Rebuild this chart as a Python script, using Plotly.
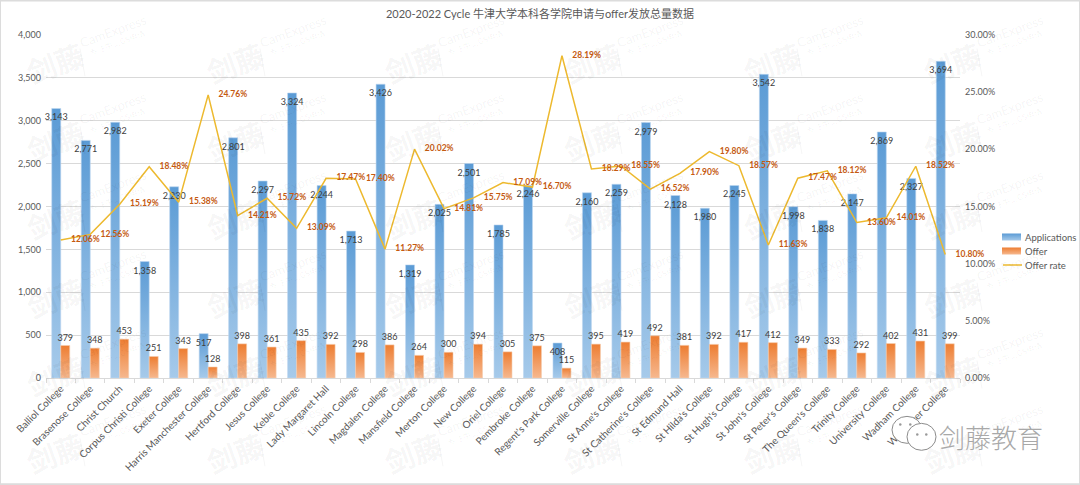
import plotly.graph_objects as go

colleges = ["Balliol College","Brasenose College","Christ Church","Corpus Christi College","Exeter College",
"Harris Manchester College","Hertford College","Jesus College","Keble College","Lady Margaret Hall",
"Lincoln College","Magdalen College","Mansfield College","Merton College","New College","Oriel College",
"Pembroke College","Regent's Park College","Somerville College","St Anne's College","St Catherine's College",
"St Edmund Hall","St Hilda's College","St Hugh's College","St John's College","St Peter's College",
"The Queen's College","Trinity College","University College","Wadham College","Worcester College"]
applications = [3143,2771,2982,1358,2230,517,2801,2297,3324,2244,1713,3426,1319,2025,2501,1785,2246,408,2160,2259,2979,2128,1980,2245,3542,1998,1838,2147,2869,2327,3694]
offers = [379,348,453,251,343,128,398,361,435,392,298,386,264,300,394,305,375,115,395,419,492,381,392,417,412,349,333,292,402,431,399]
offer_rate = [12.06,12.56,15.19,18.48,15.38,24.76,14.21,15.72,13.09,17.47,17.40,11.27,20.02,14.81,15.75,17.09,16.70,28.19,18.29,18.55,16.52,17.90,19.80,18.57,11.63,17.47,18.12,13.60,14.01,18.52,10.80]

W, H = 1080, 485
L, R, T, B = 46, 960, 34.5, 378.5
FONT = "Lato, 'Noto Sans CJK SC', sans-serif"
GREY = "#595959"
def px(x): return (x - L) / (R - L)
def py(y): return (B - y) / (B - T)

fig = go.Figure()
fig.add_bar(x=colleges, y=applications, name="Applications", marker=dict(color="#5B9BD5", line=dict(color="rgba(190,215,240,0.6)", width=1)),
            text=[f"{v:,}" for v in applications], textposition="inside", insidetextanchor="end", textangle=0,
            constraintext="none", insidetextfont=dict(color="#404040", size=9, family=FONT), cliponaxis=False)
fig.add_bar(x=colleges, y=offers, name="Offer", marker=dict(color="#ED7D31", line=dict(color="rgba(245,205,175,0.6)", width=1)),
            text=[str(v) for v in offers], textposition="outside", textangle=0, constraintext="none",
            outsidetextfont=dict(color="#404040", size=9, family=FONT), cliponaxis=False)
fig.add_scatter(x=colleges, y=[v / 100 for v in offer_rate], name="Offer rate", yaxis="y2", mode="lines+text",
                line=dict(color="#EDB92E", width=1.5), text=["\u00a0" * 5 + f"{v:.2f}%" for v in offer_rate],
                textposition="middle right", textfont=dict(color="#C55A11", size=8.5, family=FONT, weight="bold"), cliponaxis=False)

annotations = []
shapes = []
wm = "rgba(0,0,0,0.05)"
for cx in [55, 235, 413, 592, 772, 952]:
    for cy in [62, 140, 218, 297, 375, 453]:
        annotations += [
            dict(x=px(cx), y=py(cy), text="<b>剑藤</b>", font=dict(size=29, color=wm, family="Noto Sans CJK SC")),
            dict(x=px(cx + 58), y=py(cy - 32), text="CamExpress", font=dict(size=13, color=wm, family="Lato")),
            dict(x=px(cx + 62), y=py(cy - 20), text="专注牛剑GS申请", font=dict(size=8, color=wm, family="Noto Sans CJK SC")),
        ]
        shapes.append(dict(type="line", xref="paper", yref="paper", x0=px(cx + 25), y0=py(cy - 14), x1=px(cx + 30), y1=py(cy + 14),
                           line=dict(color="rgba(0,0,0,0.04)", width=1), layer="above"))
for a in annotations:
    a.update(xref="paper", yref="paper", showarrow=False, textangle=-20, xanchor="center", yanchor="middle")

# logo
annotations.append(dict(x=px(991), y=py(437), xref="paper", yref="paper", showarrow=False, xanchor="center", yanchor="middle",
                        text="剑藤教育", font=dict(size=26, color="#a8a8a8", family="Noto Sans CJK SC", weight=300)))
for (x0, y0, x1, y1) in [(892, 417, 922, 444), (907, 424, 936, 451)]:
    shapes.append(dict(type="circle", xref="paper", yref="paper", x0=px(x0), y0=py(y0), x1=px(x1), y1=py(y1),
                       fillcolor="white", line=dict(color="#8c8c8c", width=1), layer="above"))
for (x0, y0) in [(899, 424), (909, 424), (916, 434), (925, 434)]:
    shapes.append(dict(type="circle", xref="paper", yref="paper", x0=px(x0), y0=py(y0), x1=px(x0 + 2.5), y1=py(y0 + 2.5),
                       fillcolor="#999999", line=dict(width=0), layer="above"))
shapes.append(dict(type="rect", xref="paper", yref="paper", x0=px(0), y0=py(0), x1=px(W), y1=py(H),
                   line=dict(color="#dcdcdc", width=2), layer="above"))

fig.update_layout(
    width=W, height=H, margin=dict(l=L, r=W - R, t=T, b=H - B, autoexpand=False), paper_bgcolor="white", plot_bgcolor="white",
    font=dict(family=FONT, color=GREY, size=10),
    title=dict(text="2020-2022 Cycle 牛津大学本科各学院申请与offer发放总量数据", x=0.5, xanchor="center", y=1 - 14 / H, yanchor="middle",
               font=dict(size=11, color=GREY, family=FONT)),
    barmode="group", bargap=0.39, bargroupgap=0,
    xaxis=dict(tickangle=-45, tickson="boundaries", ticks="outside", ticklen=4, tickcolor="#d9d9d9", showline=True, linecolor="#d9d9d9",
               range=[-0.5, 30.5], tickfont=dict(size=10, color=GREY), showgrid=False, fixedrange=True, automargin=False),
    yaxis=dict(range=[0, 4000], dtick=500, tickformat=",", gridcolor="#d9d9d9", gridwidth=1, zeroline=False, ticks="", ticklabelstandoff=4,
               tickfont=dict(size=9, color=GREY), fixedrange=True, automargin=False),
    yaxis2=dict(range=[0, 0.30], dtick=0.05, tickformat=".2%", overlaying="y", side="right", showgrid=False, zeroline=False, ticks="", ticklabelstandoff=4,
                tickfont=dict(size=9, color=GREY), fixedrange=True, automargin=False),
    legend=dict(x=985 / W, y=1 - 229 / H, xref="container", yref="container", xanchor="left", yanchor="top", font=dict(size=9.5, color=GREY), bgcolor="rgba(0,0,0,0)", tracegroupgap=0),
    annotations=annotations, shapes=shapes, showlegend=True,
)

post = r"""
document.documentElement.style.margin='0';document.body.style.margin='0';
var gd=document.querySelector('.plotly-graph-div');
var NS='http://www.w3.org/2000/svg';
var svg=gd.querySelector('.main-svg');
var defs=document.createElementNS(NS,'defs');svg.appendChild(defs);
function grad(id,a,b){var g=document.createElementNS(NS,'linearGradient');g.setAttribute('id',id);g.setAttribute('x1','0');g.setAttribute('y1','0');g.setAttribute('x2','0');g.setAttribute('y2','1');
 [[0,a],[1,b]].forEach(function(s){var t=document.createElementNS(NS,'stop');t.setAttribute('offset',s[0]);t.setAttribute('stop-color',s[1]);g.appendChild(t);});defs.appendChild(g);}
grad('gA','#5B9BD5','#A6CAEA');grad('gB','#ED7D31','#F6B88F');
var ids=['gA','gB'];
gd.querySelectorAll('.barlayer .trace.bars').forEach(function(t,i){t.querySelectorAll('.point path').forEach(function(p){p.style.fill='url(#'+ids[i]+')';});});
gd.querySelectorAll('.legend .traces').forEach(function(t,i){
 t.setAttribute('transform','translate(0,'+(8+14*i)+')');
 if(i<2){t.querySelectorAll('.legendpoints path').forEach(function(p){p.setAttribute('d','M-3,-3.5H16V3.5H-3Z');p.style.fill='url(#'+ids[i]+')';p.style.strokeWidth='0';});}
 else{t.querySelectorAll('.legendlines path').forEach(function(p){p.setAttribute('d','M18,0H37');});}
});
"""
fig.write_html("out.html", post_script=post, config={"displayModeBar": False})
